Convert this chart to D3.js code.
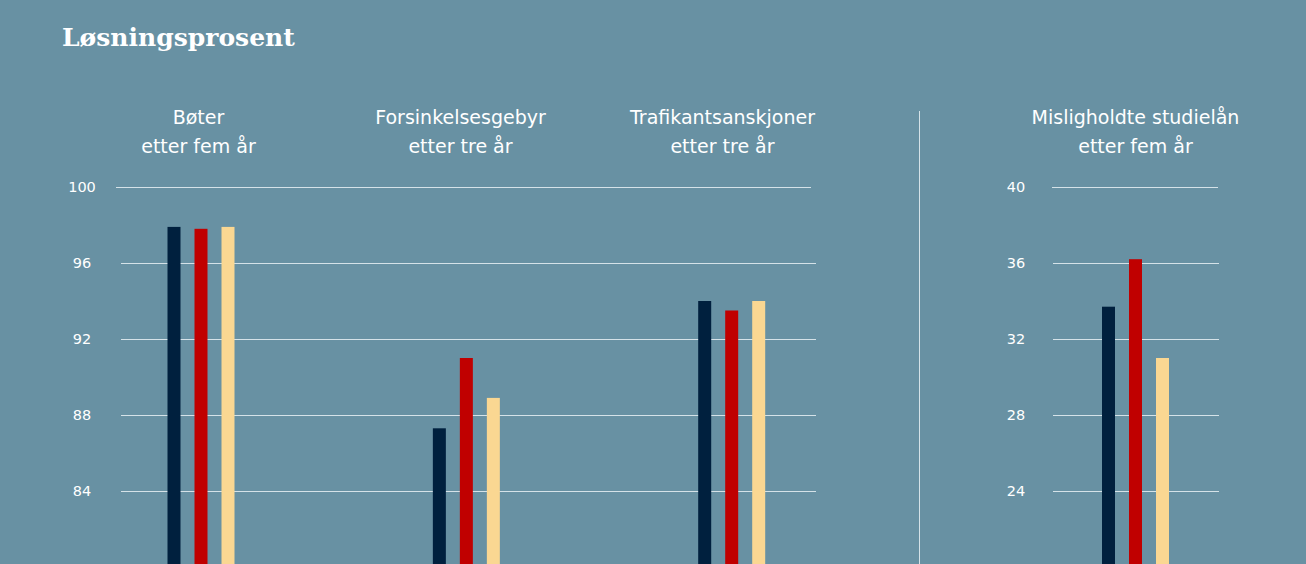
<!DOCTYPE html>
<html><head><meta charset="utf-8">
<script src="https://cdn.jsdelivr.net/npm/d3@7/dist/d3.min.js"></script>
<style>
html,body{margin:0;padding:0;background:#6891a3;}
svg{display:block;}
</style></head>
<body>
<svg id="c" width="1306" height="564"></svg>
<script>
// ---- data ----
const leftCategories = ["Bøter", "Forsinkelsesgebyr", "Trafikantsanskjoner"];
const leftSubtitles = ["etter fem år", "etter tre år", "etter tre år"];
const rightCategories = ["Misligholdte studielån"];
const rightSubtitles = ["etter fem år"];
const series = ["s1", "s2", "s3"];
const seriesColors = ["#00203e", "#c00000", "#fad792"];
const leftValues = [
  [97.9, 97.8, 97.9],
  [87.3, 91.0, 88.9],
  [94.0, 93.5, 94.0]
];
const rightValues = [
  [33.7, 36.2, 31.0]
];
const leftTicks = [100, 96, 92, 88, 84];
const rightTicks = [40, 36, 32, 28, 24];
const title = "Løsningsprosent";

// ---- drawing ----
const svg = d3.select("#c");
const W = 1306, H = 564;
const gridColor = "#d5e2e8";
const font = "'DejaVu Sans', sans-serif";

svg.append("rect").attr("width", W).attr("height", H).attr("fill", "#6891a3");

svg.append("text").attr("x", 62).attr("y", 46)
  .attr("fill", "#ffffff").attr("font-family", "'DejaVu Serif', serif")
  .attr("font-weight", "bold").attr("font-size", 25)
  .text(title);

function panel(cfg) {
  const y = d3.scaleLinear().domain(cfg.domain).range([567, 187]);
  const x = d3.scalePoint().domain(cfg.categories).range(cfg.barRange);
  const xl = d3.scalePoint().domain(cfg.categories).range(cfg.labelRange);
  const xs = d3.scaleBand().domain(series).range([-33.5, 33.5]).paddingInner(14 / 27).paddingOuter(0);
  const g = svg.append("g");

  // grid lines
  g.selectAll("line.grid").data(cfg.ticks).join("line")
    .attr("x1", (d, i) => cfg.gridX[0] - (i === 0 ? cfg.topShift : 0))
    .attr("x2", (d, i) => cfg.gridX[1] - (i === 0 ? cfg.topShift : 0))
    .attr("y1", d => y(d) + 0.5).attr("y2", d => y(d) + 0.5)
    .attr("stroke", gridColor).attr("stroke-width", 1);

  // tick labels
  g.selectAll("text.tick").data(cfg.ticks).join("text")
    .attr("x", cfg.tickX).attr("y", d => y(d))
    .attr("dy", "0.36em").attr("text-anchor", "middle")
    .attr("fill", "#ffffff").attr("font-family", font).attr("font-size", 14.5)
    .text(d => d);

  // bars
  cfg.categories.forEach((c, ci) => {
    g.selectAll(null).data(cfg.values[ci]).join("rect")
      .attr("x", (d, si) => x(c) + xs(series[si]))
      .attr("width", xs.bandwidth())
      .attr("y", d => y(d))
      .attr("height", d => H + 10 - y(d))
      .attr("fill", (d, si) => seriesColors[si]);
  });

  // category labels
  cfg.categories.forEach((c, ci) => {
    const t = g.append("text").attr("x", xl(c)).attr("y", 124)
      .attr("text-anchor", "middle").attr("fill", "#ffffff")
      .attr("font-family", font).attr("font-size", 19);
    t.append("tspan").attr("x", xl(c)).attr("y", 124).text(c);
    t.append("tspan").attr("x", xl(c)).attr("y", 153).text(cfg.subtitles[ci]);
  });
}

panel({
  categories: leftCategories, subtitles: leftSubtitles, values: leftValues,
  domain: [80, 100], ticks: leftTicks,
  barRange: [201, 731.7], labelRange: [198.5, 722.5],
  gridX: [121, 816], tickX: 82, topShift: 5
});
panel({
  categories: rightCategories, subtitles: rightSubtitles, values: rightValues,
  domain: [20, 40], ticks: rightTicks,
  barRange: [1135.5, 1135.5], labelRange: [1135.5, 1135.5],
  gridX: [1053, 1219], tickX: 1016, topShift: 1
});

// divider
svg.append("line").attr("x1", 919.5).attr("x2", 919.5).attr("y1", 111).attr("y2", H)
  .attr("stroke", gridColor).attr("stroke-width", 1);
</script>
</body></html>
